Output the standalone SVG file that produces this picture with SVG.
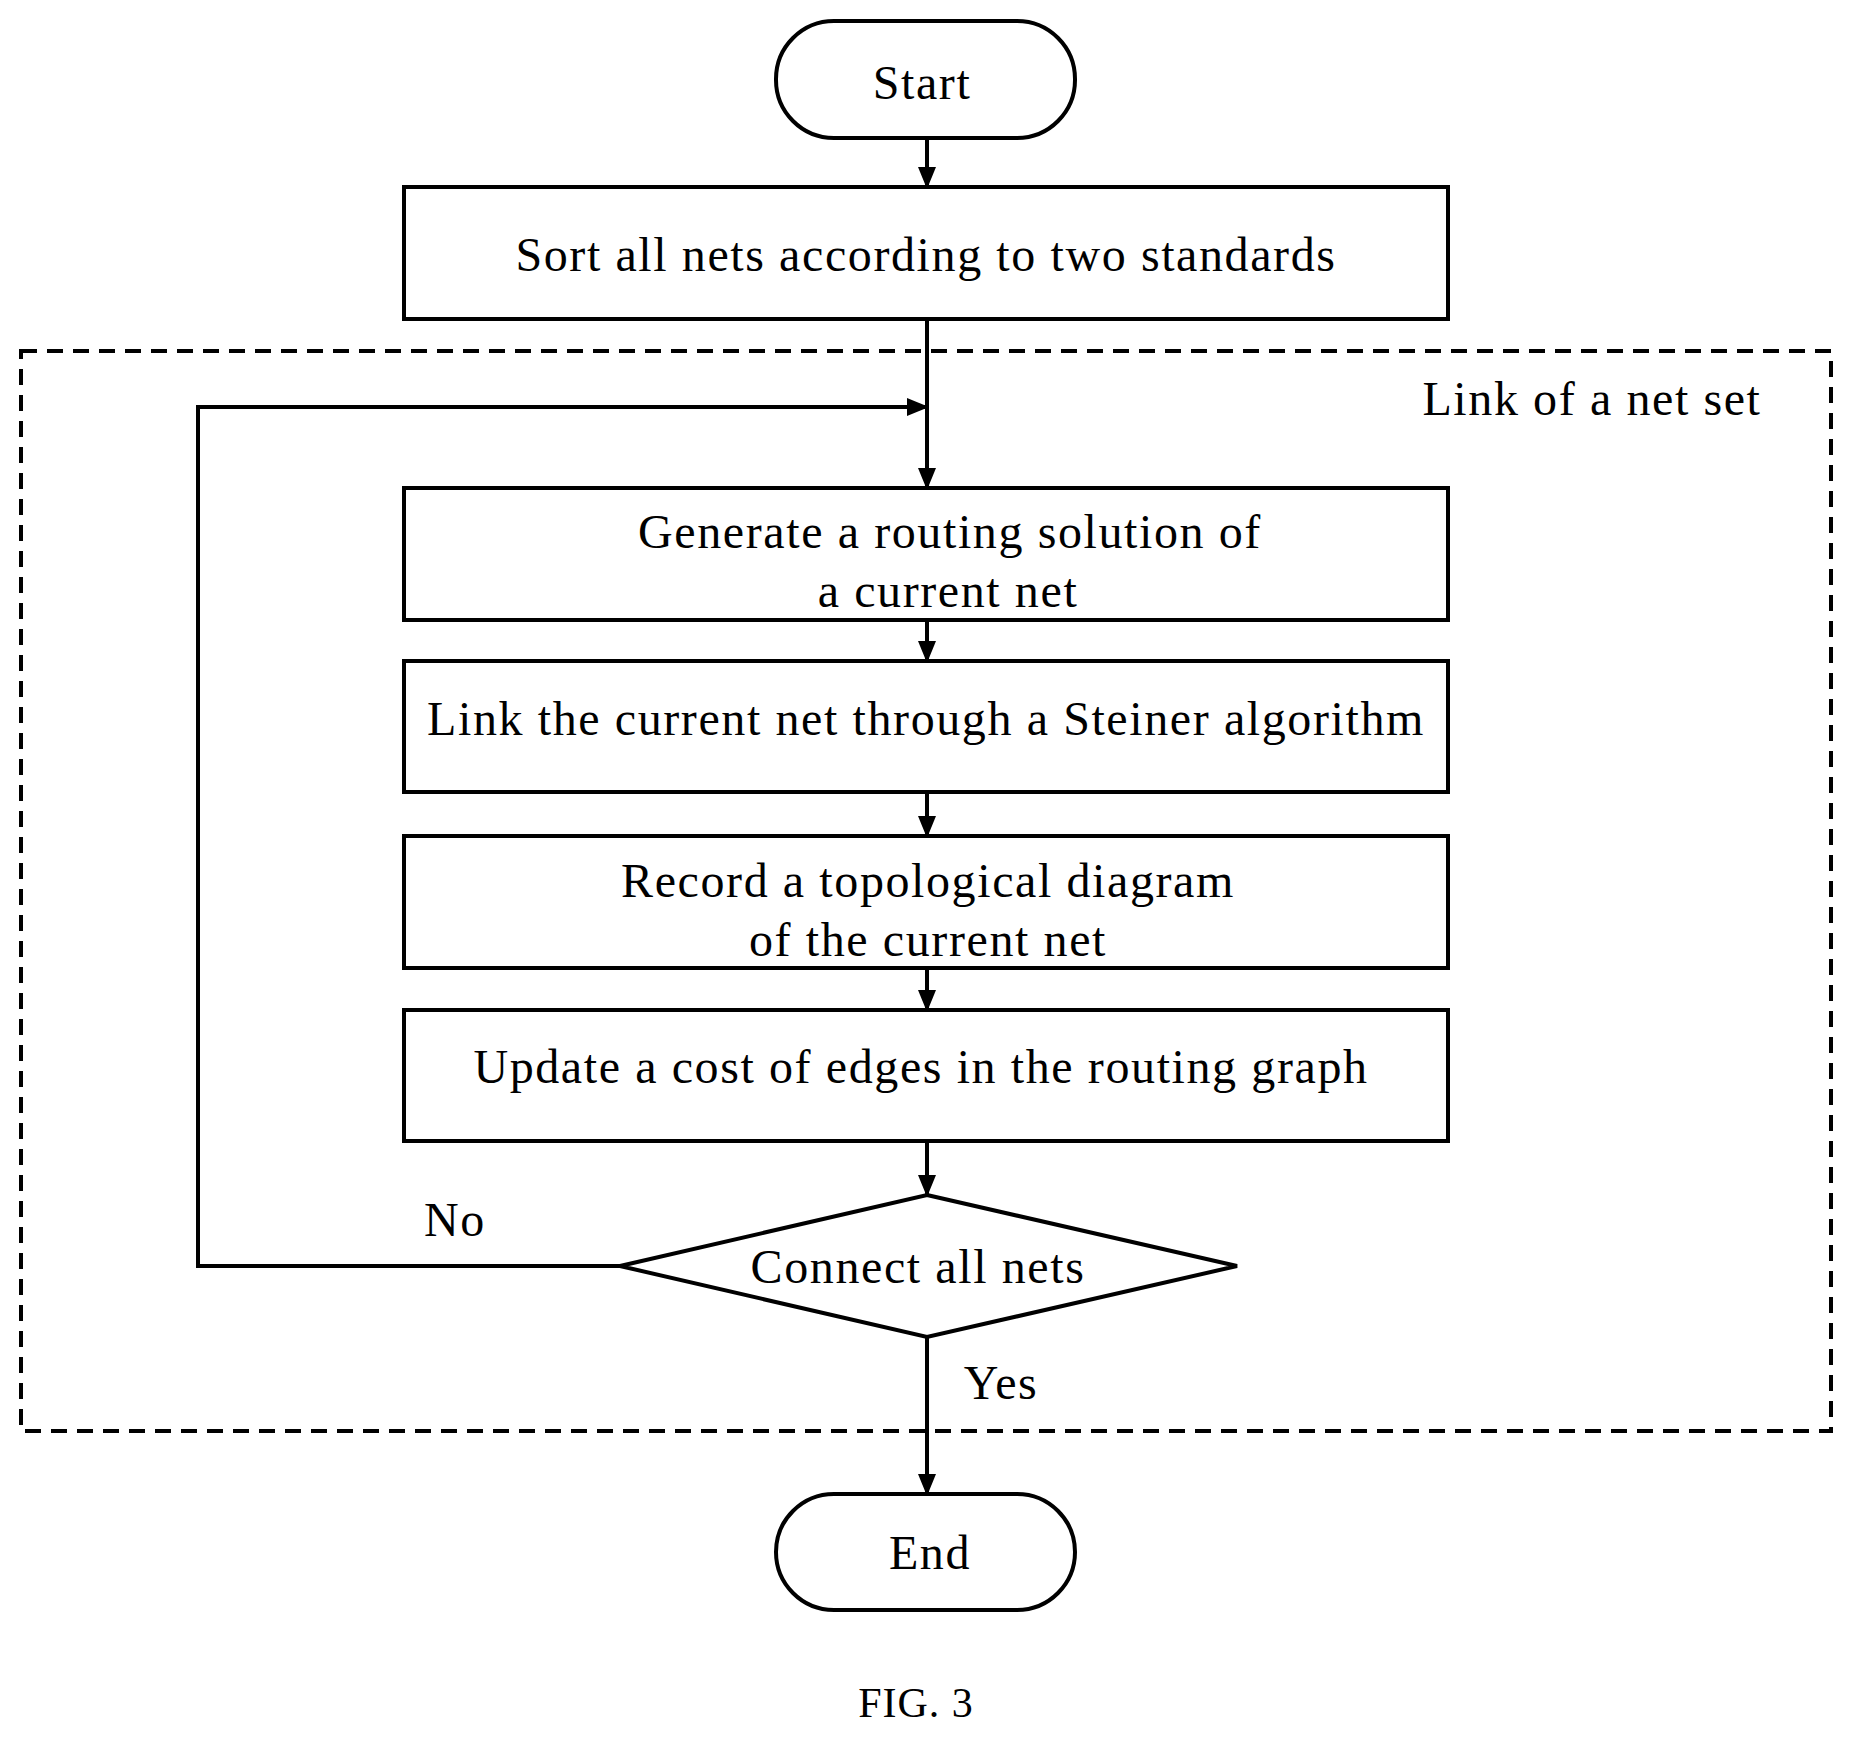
<svg xmlns="http://www.w3.org/2000/svg" width="1852" height="1739" viewBox="0 0 1852 1739">
<style>
.s{fill:#fff;stroke:#000;stroke-width:4}
.t{font-family:"Liberation Serif",serif;font-size:48px;letter-spacing:1.6px;fill:#000;text-anchor:middle;dominant-baseline:central}
.c{fill:none;stroke:#000;stroke-width:4}
</style>
<defs>
<marker id="b" markerWidth="22" markerHeight="22" refX="20" refY="11" orient="auto" markerUnits="userSpaceOnUse"><path d="M0,2L22,11L0,20z" fill="#000"/></marker></defs>
<rect x="21" y="351" width="1810" height="1080" fill="none" stroke="#000" stroke-width="4" stroke-dasharray="16,10"/>
<text class="t" x="1592" y="398">Link of a net set</text>
<g id="connectors">
<path class="c" d="M927,138V187" marker-end="url(#b)"/>
<path class="c" d="M927,319V488" marker-end="url(#b)"/>
<path class="c" d="M927,620V661" marker-end="url(#b)"/>
<path class="c" d="M927,792V836" marker-end="url(#b)"/>
<path class="c" d="M927,968V1010" marker-end="url(#b)"/>
<path class="c" d="M927,1141V1195" marker-end="url(#b)"/>
<path class="c" d="M620,1266H198V407H927" marker-end="url(#b)"/>
<path class="c" d="M927,1337V1494" marker-end="url(#b)"/>
<text class="t" x="455" y="1219">No</text>
<text class="t" x="1001" y="1382">Yes</text>
</g>
<g id="start"><rect class="s" x="776" y="21" width="299" height="117" rx="58"/><text class="t" x="922" y="82">Start</text></g>
<g id="sort"><rect class="s" x="404" y="187" width="1044" height="132"/><text class="t" x="926" y="254">Sort all nets according to two standards</text></g>
<g id="gen"><rect class="s" x="404" y="488" width="1044" height="132"/><text class="t" x="950" y="531">Generate a routing solution of</text><text class="t" x="948" y="590">a current net</text></g>
<g id="link"><rect class="s" x="404" y="661" width="1044" height="131"/><text class="t" x="926" y="718">Link the current net through a Steiner algorithm</text></g>
<g id="record"><rect class="s" x="404" y="836" width="1044" height="132"/><text class="t" x="928" y="880">Record a topological diagram</text><text class="t" x="928" y="939">of the current net</text></g>
<g id="update"><rect class="s" x="404" y="1010" width="1044" height="131"/><text class="t" x="921" y="1066">Update a cost of edges in the routing graph</text></g>
<g id="decision"><path class="s" d="M927,1195L1237,1266L927,1337L620,1266z"/><text class="t" x="918" y="1266">Connect all nets</text></g>
<g id="end"><rect class="s" x="776" y="1494" width="299" height="116" rx="58"/><text class="t" x="930" y="1552">End</text></g>
<text class="t" x="916" y="1703" style="font-size:42px;letter-spacing:1px">FIG. 3</text>
</svg>
